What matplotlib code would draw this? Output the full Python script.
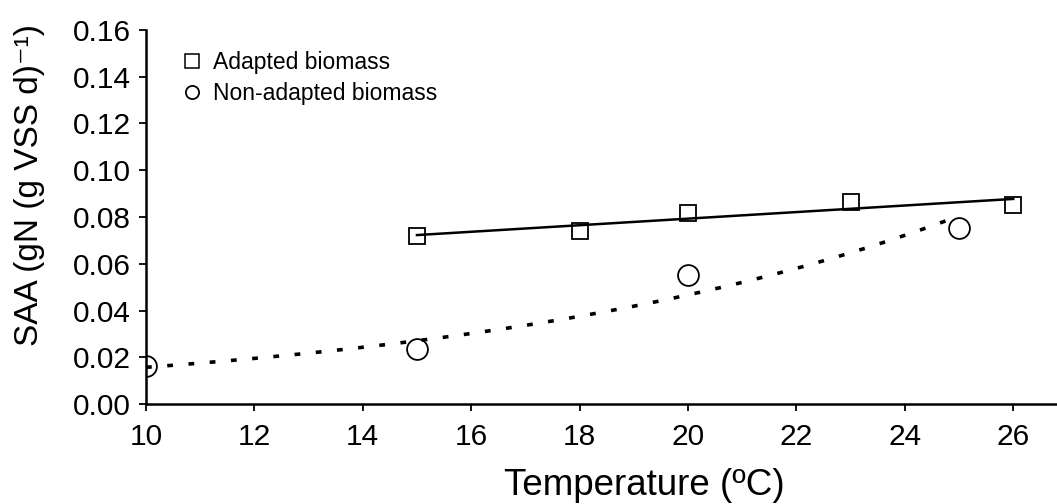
import numpy as np
import matplotlib
matplotlib.use("Agg")
import matplotlib.pyplot as plt
from matplotlib.lines import Line2D

plt.rcParams["font.family"] = ["Liberation Sans", "DejaVu Sans"]

# dados
temp_adapt = [15, 18, 20, 23, 26]
saa_adapt = [0.0719, 0.0740, 0.0818, 0.0865, 0.0851]
temp_nonadapt = [10, 15, 20, 25]
saa_nonadapt = [0.0163, 0.0235, 0.0552, 0.0754]
x_ticks = [10, 12, 14, 16, 18, 20, 22, 24, 26]
y_ticks = [0.00, 0.02, 0.04, 0.06, 0.08, 0.10, 0.12, 0.14, 0.16]

# reta de regressao (adaptada) e ajuste exponencial (nao adaptada)
b, a = np.polyfit(temp_adapt, saa_adapt, 1)
x_lin = np.linspace(min(temp_adapt), max(temp_adapt), 50)
y_lin = a + b * x_lin

k, lnc = np.polyfit(temp_nonadapt, np.log(saa_nonadapt), 1)
x_exp = np.linspace(min(temp_nonadapt), max(temp_nonadapt), 200)
y_exp = np.exp(lnc + k * x_exp)

fig = plt.figure(figsize=(10.57, 5.04), dpi=100)
ax = fig.add_axes([0.1381, 0.1984, 0.8615, 0.7421])

ax.plot(x_lin, y_lin, "k-", lw=1.8)
ax.plot(x_exp, y_exp, color="k", lw=2.6, dashes=(1.6, 4.3), dash_capstyle="butt")
ax.plot(temp_adapt, saa_adapt, "s", ms=12, mfc="none", mec="k", mew=1.3)
ax.plot(temp_nonadapt, saa_nonadapt, "o", ms=15, mfc="none", mec="k", mew=1.3)

ax.set_xlim(10, 26.8)
ax.set_ylim(0, 0.16)
ax.set_xticks(x_ticks)
ax.set_yticks(y_ticks)
ax.set_yticklabels([f"{v:.2f}" for v in y_ticks])
ax.tick_params(labelsize=21.5, length=5, width=1.3, direction="out")
ax.tick_params(axis="x", pad=9)
ax.tick_params(axis="y", pad=6)
for s in ["top", "right"]:
    ax.spines[s].set_visible(False)
for s in ["left", "bottom"]:
    ax.spines[s].set_linewidth(1.8)

ax.set_xlabel("Temperature (ºC)", fontsize=26.5)
ax.xaxis.label.set_va("baseline")
ax.xaxis.set_label_coords(0.547, -0.243)
fig.text(30 / 1057, 1 - 185 / 504, "SAA (gN (g VSS d)⁻¹)", fontsize=24,
         rotation=90, ha="center", va="center")

handles = [
    Line2D([], [], ls="none", marker="s", ms=10.5, mfc="none", mec="k", mew=1.1),
    Line2D([], [], ls="none", marker="o", ms=9.5, mfc="none", mec="k", mew=1.3),
]
ax.legend(handles, ["Adapted biomass", "Non-adapted biomass"], loc="upper left",
          bbox_to_anchor=(0.0406, 0.945), frameon=False, fontsize=16.5,
          handlelength=0.75, handletextpad=0.55, labelspacing=0.37,
          borderpad=0, borderaxespad=0)

fig.savefig("out.png", dpi=100)
